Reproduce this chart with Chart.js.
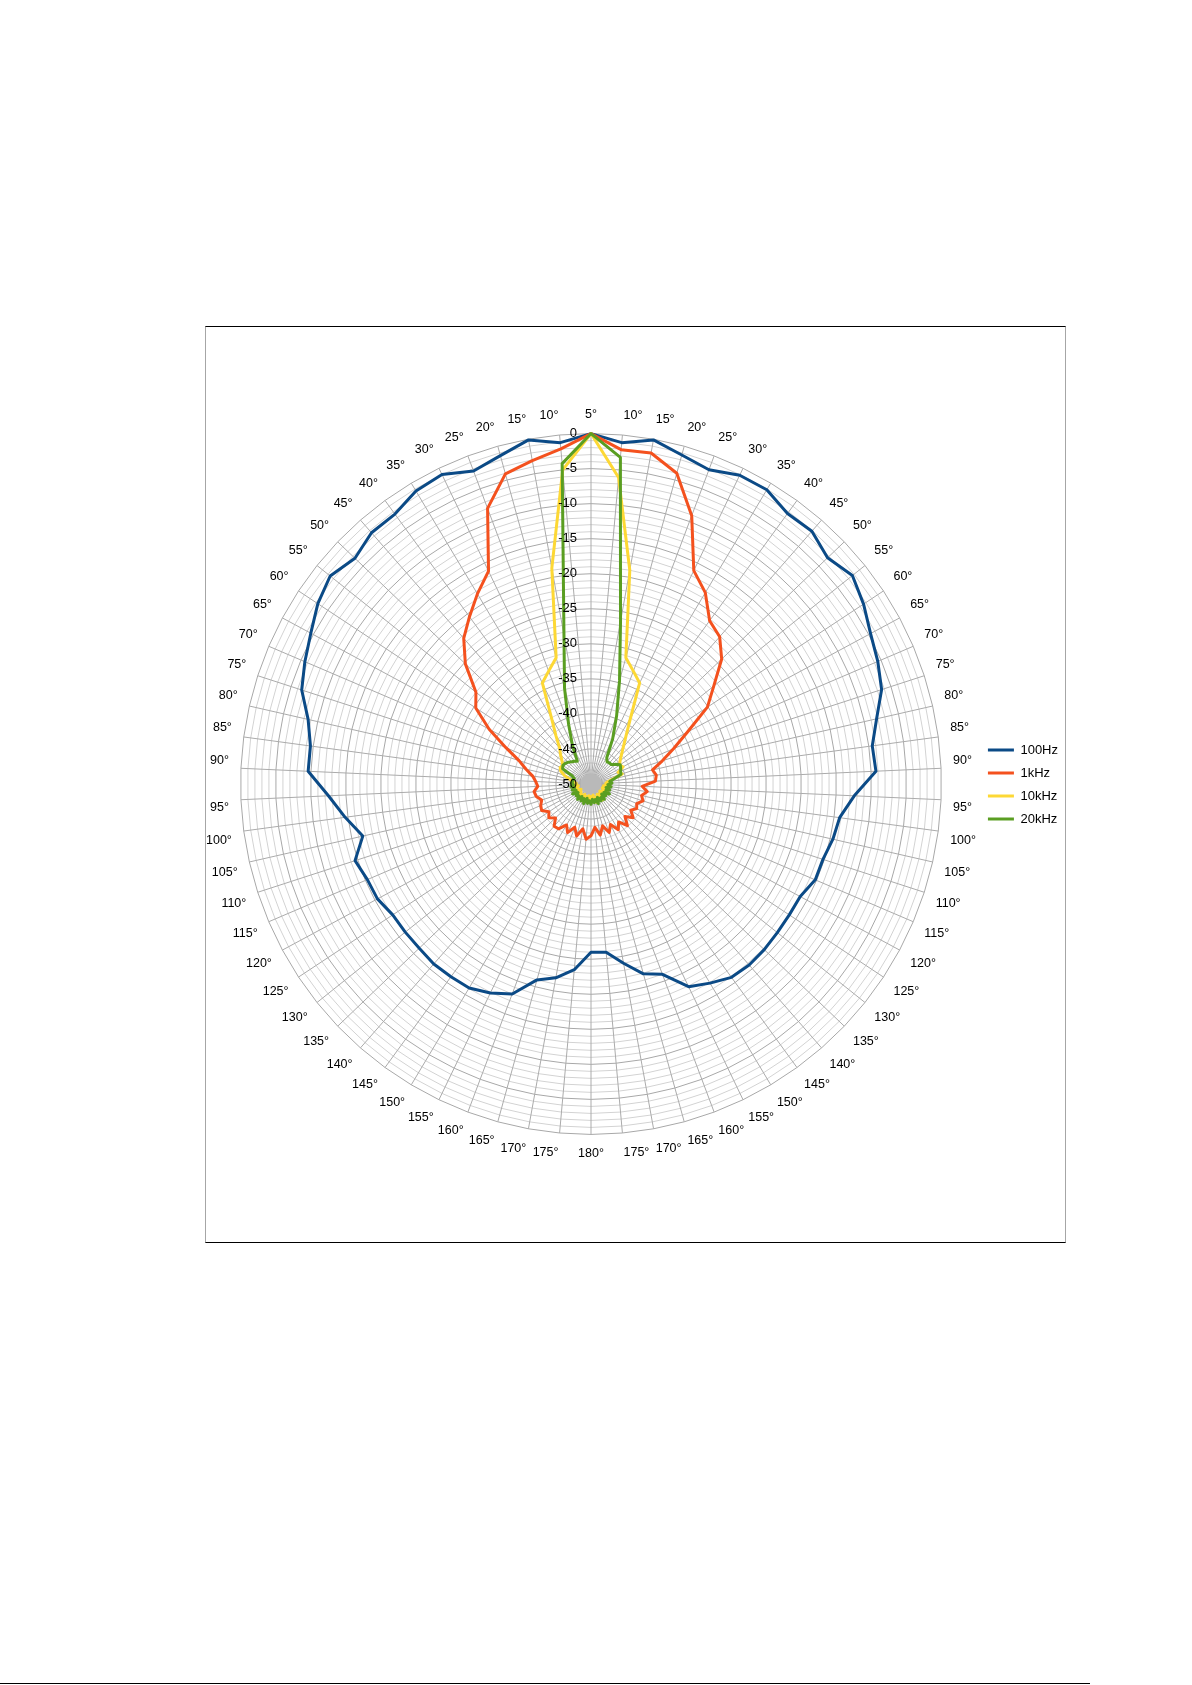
<!DOCTYPE html>
<html>
<head>
<meta charset="utf-8">
<script src="https://cdn.jsdelivr.net/npm/chart.js@4/dist/chart.umd.min.js"></script>
<style>
  body { margin: 0; background: #fff; width: 1192px; height: 1685px; position: relative; overflow: hidden; }
  #box { position: absolute; left: 205px; top: 326px; width: 859px; height: 915px;
         border-top: 1px solid #000; border-bottom: 1px solid #000;
         border-left: 1px solid #a6a6a6; border-right: 1px solid #a6a6a6; }
  #wrap { position: absolute; left: 0; top: 0; width: 859px; height: 915px; }
  #pageLine { position: absolute; left: 0; top: 1683px; width: 1090px; height: 1px; background: #000; }
</style>
</head>
<body>
<div id="box"><div id="wrap"><canvas id="polar"></canvas></div></div>
<div id="pageLine"></div>
<script>
const angulos = ['5°','10°','15°','20°','25°','30°','35°','40°','45°','50°',
  '55°','60°','65°','70°','75°','80°','85°','90°','95°','100°',
  '105°','110°','115°','120°','125°','130°','135°','140°','145°','150°',
  '155°','160°','165°','170°','175°','180°','175°','170°','165°','160°',
  '155°','150°','145°','140°','135°','130°','125°','120°','115°','110°',
  '105°','100°','95°','90°','85°','80°','75°','70°','65°','60°',
  '55°','50°','45°','40°','35°','30°','25°','20°','15°','10°'];

const serieNomes = ['100Hz', '1kHz', '10kHz', '20kHz'];
const serieCores = ['#0b4a86', '#f4511e', '#fdd835', '#5a9e22'];

const v100Hz = [0, -1.1, -0.1, -1.3, -2.1, -1.1, -1.1, -2.3, -2.1, -3.3,
  -2.3, -3.4, -4.7, -5.5, -6.4, -8.2, -9.5, -9.3, -12.4, -14.2,
  -14.6, -15.2, -15.2, -16.1, -16.1, -16.0, -15.8, -15.7, -15.9, -16.9,
  -17.9, -21.0, -21.9, -24.0, -25.9, -26.0, -23.4, -21.9, -21.0, -18.0,
  -16.9, -16.1, -16.0, -15.9, -16.1, -16.1, -16.1, -15.4, -15.3, -14.6,
  -16.6, -14.6, -12.5, -9.6, -9.6, -8.6, -6.6, -5.6, -4.6, -3.3,
  -2.4, -3.4, -2.4, -2.4, -1.3, -1.0, -2.3, -1.4, -0.1, -1.1];

const v1kHz = [0, -2.1, -2.0, -4.0, -9.1, -16.2, -18.2, -21.2, -22.1, -24.2,
  -27.6, -30.1, -34.4, -37.2, -39.3, -41.0, -40.6, -40.8, -42.7, -41.9,
  -42.6, -42.2, -42.9, -42.6, -43.2, -42.3, -43.3, -42.1, -43.3, -42.4,
  -43.6, -42.6, -43.8, -42.6, -43.8, -42.6, -42.1, -43.5, -42.3, -43.4,
  -42.3, -43.2, -42.1, -42.0, -43.0, -42.3, -42.8, -42.0, -42.2, -42.6,
  -42.0, -41.8, -42.4, -42.1, -41.6, -40.5, -39.2, -36.8, -33.5, -30.3,
  -29.0, -25.2, -22.4, -20.5, -18.4, -16.3, -8.0, -4.1, -3.1, -2.0];

const v10kHz = [0, -6.1, -19.0, -31.3, -32.8, -34.0, -39.0, -41.5, -43.0, -44.0,
  -44.7, -45.1, -44.8, -45.8, -45.3, -46.8, -47.6, -47.9, -47.3, -48.2,
  -47.6, -48.3, -47.5, -48.1, -47.4, -48.4, -47.7, -48.2, -47.2, -48.3,
  -47.6, -48.0, -47.3, -48.4, -47.5, -48.2, -47.4, -48.3, -47.6, -48.1,
  -47.3, -48.3, -47.7, -48.0, -47.4, -48.2, -47.6, -48.4, -47.5, -48.0,
  -47.6, -48.2, -47.4, -47.9, -47.5, -46.8, -46.0, -45.3, -45.0, -45.2,
  -44.7, -44.0, -43.2, -41.5, -39.0, -34.0, -32.8, -31.3, -18.7, -5.0];

const v20kHz = [0, -3.2, -26.4, -34.7, -39.6, -42.9, -45.6, -46.1, -46.0, -46.0,
  -45.5, -45.0, -45.2, -45.4, -45.5, -46.6, -47.3, -47.0, -47.6, -47.1,
  -47.8, -47.2, -47.7, -47.0, -47.8, -47.3, -47.9, -47.1, -47.6, -47.2,
  -47.9, -47.0, -47.7, -47.3, -47.8, -47.1, -47.6, -47.2, -47.9, -47.0,
  -47.7, -47.2, -47.8, -47.1, -47.6, -47.3, -47.8, -47.0, -47.7, -47.2,
  -47.6, -47.1, -47.5, -47.2, -47.4, -47.3, -47.5, -47.1, -45.4, -45.2,
  -45.3, -45.5, -45.8, -46.0, -46.2, -43.9, -40.9, -35.8, -28.4, -4.1];

const fonte = "'Liberation Sans', Arial, sans-serif";
const valores = [v100Hz, v1kHz, v10kHz, v20kHz];

// miolo cinza onde os raios se juntam + rotulos do eixo radial a esquerda do raio vertical
const rotulosRaio = {
  id: 'rotulosRaio',
  beforeDatasetsDraw(chart) {
    const r = chart.scales.r;
    const ctx = chart.ctx;
    ctx.save();
    ctx.fillStyle = '#b9b9b9';
    ctx.beginPath();
    ctx.arc(r.xCenter, r.yCenter, r.getDistanceFromCenterForValue(-48.5), 0, Math.PI * 2);
    ctx.fill();
    ctx.restore();
  },
  afterDatasetsDraw(chart) {
    const r = chart.scales.r;
    const ctx = chart.ctx;
    ctx.save();
    ctx.font = '13px ' + fonte;
    ctx.fillStyle = '#000';
    ctx.textAlign = 'right';
    ctx.textBaseline = 'middle';
    r.ticks.forEach(t => {
      if (t.value % 5 !== 0) return;
      const d = r.getDistanceFromCenterForValue(t.value);
      ctx.fillText(String(t.value), r.xCenter - 14, r.yCenter - d);
    });
    ctx.restore();
  }
};

const ctx = document.getElementById('polar').getContext('2d');

new Chart(ctx, {
  type: 'radar',
  data: {
    labels: angulos,
    datasets: serieNomes.map((nome, i) => ({
      label: nome,
      data: valores[i],
      borderColor: serieCores[i],
      backgroundColor: serieCores[i],
      borderWidth: 3,
      borderJoinStyle: 'round',
      pointRadius: 0,
      pointHoverRadius: 0,
      fill: false,
      order: 3 - i
    }))
  },
  options: {
    responsive: true,
    maintainAspectRatio: false,
    animation: false,
    layout: { padding: { left: 0, right: -3, top: 0, bottom: 0 } },
    plugins: {
      tooltip: { enabled: false },
      legend: {
        position: 'right',
        labels: {
          usePointStyle: true,
          pointStyle: 'line',
          pointStyleWidth: 26,
          color: '#000',
          padding: 10,
          font: { family: fonte, size: 13 },
          sort: (a, b) => a.datasetIndex - b.datasetIndex
        }
      }
    },
    scales: {
      r: {
        min: -50,
        max: 0,
        startAngle: 0,
        angleLines: { color: '#ababab', lineWidth: 1 },
        grid: {
          color: c => (c.tick && c.tick.value % 5 === 0) ? '#a8a8a8' : '#d3d3d3',
          lineWidth: 1
        },
        ticks: { stepSize: 1, maxTicksLimit: 100, display: false },
        pointLabels: {
          color: '#000',
          padding: 12,
          font: { family: fonte, size: 12.5 }
        }
      }
    }
  },
  plugins: [rotulosRaio]
});
</script>
</body>
</html>
